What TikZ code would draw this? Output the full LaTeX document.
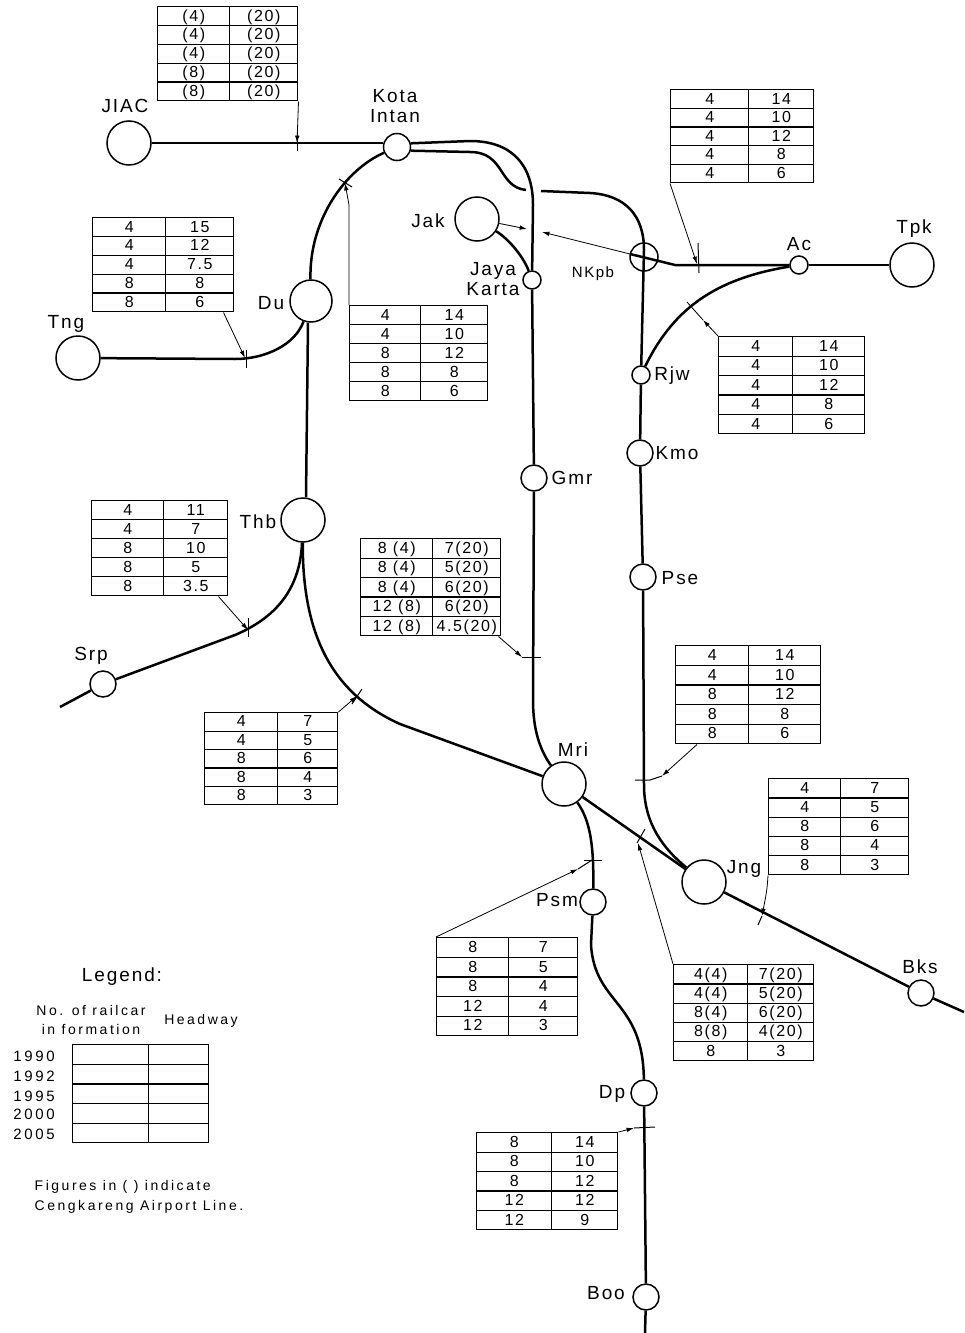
\documentclass[tikz,border=0pt]{standalone}
\usepackage{fontspec}
\setmainfont[LetterSpace=10]{Liberation Sans}
\newfontfamily\widefont[LetterSpace=18]{Liberation Sans}
\usetikzlibrary{arrows.meta,matrix}
\tikzset{
  rail/.style={line width=2.5pt,draw=black},
  leader/.style={-{Latex[length=2.6mm,width=1.6mm]},line width=0.8pt,draw=black},
  thin leader/.style={line width=0.8pt,draw=black},
  tick/.style={line width=1pt,draw=black},
  station/.style={circle,draw=black,fill=white,line width=1.5pt,inner sep=0pt,minimum size=#1},
  stationlabel/.style={inner sep=0pt,align=center,font=\fontsize{19}{20.5}\selectfont},
  legendtext/.style={inner sep=0pt,align=left,font=\widefont\fontsize{14}{19.5}\selectfont},
  yearlabel/.style={inner sep=0pt,font=\widefont\fontsize{15}{15}\selectfont},
  railtab/.style n args={3}{matrix of nodes,ampersand replacement=\&,inner sep=0pt,anchor=north west,
    nodes in empty cells,row sep=-1.1pt,column sep=-1.1pt,
    nodes={draw=black,line width=1.1pt,inner sep=0pt,outer sep=0pt,minimum height=#3,
           text height=10pt,text depth=0pt,font=\fontsize{16}{16}\selectfont},
    column 1/.style={nodes={minimum width=#1}},
    column 2/.style={nodes={minimum width=#2}}}
}
\begin{document}
\begin{tikzpicture}[x=1pt,y=-1pt]
  \useasboundingbox (0,0) rectangle (964,1333);

  % Stations.
  \node[station=44] (jiac) at (129,143) {};
  \node[station=27] (kota) at (397,147) {};
  \node[station=44] (jak) at (477,219) {};
  \node[station=18] (jaya) at (532,280) {};
  \node[station=28,fill=none] (nkpb) at (644,257) {};
  \node[station=18] (ac) at (799,265) {};
  \node[station=44] (tpk) at (912,265) {};
  \node[station=42] (du) at (311,301) {};
  \node[station=44] (tng) at (78,358) {};
  \node[station=18] (rjw) at (641,375) {};
  \node[station=26] (kmo) at (640,453) {};
  \node[station=26] (gmr) at (534,478) {};
  \node[station=26] (pse) at (643,577) {};
  \node[station=44] (thb) at (303,520) {};
  \node[station=26] (srp) at (103,684) {};
  \node[station=44] (mri) at (564,784) {};
  \node[station=44] (jng) at (704,882) {};
  \node[station=26] (psm) at (593,902) {};
  \node[station=26] (bks) at (921,993) {};
  \node[station=26] (dp) at (644,1093) {};
  \node[station=26] (boo) at (646,1297) {};

  % Station names.
  \node[stationlabel] (ljiac) at (125,106) {JIAC};
  \node[stationlabel] (lkota) at (395,106) {Kota\\Intan};
  \node[stationlabel] (ljak) at (428,221) {Jak};
  \node[stationlabel] (ljaya) at (493,279) {Jaya\\Karta};
  \node[stationlabel,font=\fontsize{15}{16}\selectfont] (lnkpb) at (593,274) {NKpb};
  \node[stationlabel] (lac) at (799,244) {Ac};
  \node[stationlabel] (ltpk) at (914,229) {Tpk};
  \node[stationlabel] (ldu) at (271,303) {Du};
  \node[stationlabel] (ltng) at (66,324) {Tng};
  \node[stationlabel] (lrjw) at (672,376) {Rjw};
  \node[stationlabel] (lkmo) at (677,453) {Kmo};
  \node[stationlabel] (lgmr) at (572,478) {Gmr};
  \node[stationlabel] (lpse) at (680,578) {Pse};
  \node[stationlabel] (lthb) at (258,522) {Thb};
  \node[stationlabel] (lsrp) at (91,656) {Srp};
  \node[stationlabel] (lmri) at (573,750) {Mri};
  \node[stationlabel] (ljng) at (744,869) {Jng};
  \node[stationlabel] (lpsm) at (557,900) {Psm};
  \node[stationlabel] (lbks) at (920,967) {Bks};
  \node[stationlabel] (ldp) at (612,1094) {Dp};
  \node[stationlabel] (lboo) at (606,1293) {Boo};

  % Lines.
  \draw[rail] (jiac) -- (kota.west |- jiac);
  \draw[rail] (kota.15) -- (470,141) .. controls (512,141) and (533,165) .. (533,205) -- (jaya);
  \draw[rail] (kota.-15) -- (470,152) .. controls (505,152) and (498,187) .. (526,190);
  \draw[rail] (541,191) -- (590,193) .. controls (625,195) and (644,215) .. (644,250) -- (rjw);
  \draw[rail] (rjw) -- (kmo);
  \draw[rail] (kmo) -- (pse);
  \draw[rail] (pse) -- (644,785) .. controls (644,825) and (665,850) .. (jng);
  \draw[rail] (jak) .. controls (510,240) and (524,258) .. (jaya);
  \draw[rail] (jaya) -- (gmr);
  \draw[rail] (gmr) -- (533,700) .. controls (533,730) and (540,750) .. (mri);
  \draw[leader] (jak) -- (527,229);
  \coordinate (nkend) at (630,254);
  \draw[leader] (nkend) -- (542,232);
  \draw[rail] (ac) -- (675,265) -- (nkend);
  \draw[rail] (ac) -- (tpk);
  \draw[rail] (rjw) .. controls (675,305) and (720,278) .. (ac);
  \draw[rail] (kota) .. controls (345,170) and (309,220) .. (du);
  \draw[rail] (tng) -- (235,359) .. controls (265,359) and (295,345) .. (du);
  \draw[rail] ([xshift=-3pt]du.south) -- ([xshift=3pt]thb.north);
  \draw[rail] (thb) .. controls (300,590) and (275,618) .. (235,635) -- (srp);
  \draw[rail] (srp) -- (60,707);
  \draw[rail] (thb) .. controls (302,645) and (340,697) .. (400,724) -- (mri);
  \draw[rail] (mri) -- (jng);
  \draw[rail] (jng) -- (bks);
  \draw[rail] (bks) -- (964,1012);
  \draw[rail] (mri) .. controls (590,820) and (594,845) .. (psm);
  \draw[rail] (psm) -- (591,945) .. controls (595,1005) and (643,1000) .. (dp);
  \draw[rail] (dp) -- (boo);
  \draw[rail] (boo) -- (645,1333);

  % Tables: cars in formation, headway.
  \matrix (tabJiac) at (157,6) [railtab={72}{68}{18.8}] {
    (4) \& (20) \\ (4) \& (20) \\ (4) \& (20) \\ (8) \& (20) \\ (8) \& (20) \\};
  \matrix (tabTng) at (92,217) [railtab={73}{68}{18.8}] {
    4 \& 15 \\ 4 \& 12 \\ 4 \& 7.5 \\ 8 \& 8 \\ 8 \& 6 \\};
  \matrix (tabDu) at (349,305) [railtab={71}{67}{19}] {
    4 \& 14 \\ 4 \& 10 \\ 8 \& 12 \\ 8 \& 8 \\ 8 \& 6 \\};
  \matrix (tabAc) at (670,89) [railtab={78}{65}{18.6}] {
    4 \& 14 \\ 4 \& 10 \\ 4 \& 12 \\ 4 \& 8 \\ 4 \& 6 \\};
  \matrix (tabRjw) at (718,336) [railtab={74}{72}{19.4}] {
    4 \& 14 \\ 4 \& 10 \\ 4 \& 12 \\ 4 \& 8 \\ 4 \& 6 \\};
  \matrix (tabThb) at (91,500) [railtab={72}{64}{19}] {
    4 \& 11 \\ 4 \& 7 \\ 8 \& 10 \\ 8 \& 5 \\ 8 \& 3.5 \\};
  \matrix (tabGmr) at (360,538) [railtab={72}{68}{19.4}] {
    8 (4) \& 7(20) \\ 8 (4) \& 5(20) \\ 8 (4) \& 6(20) \\ 12 (8) \& 6(20) \\ 12 (8) \& 4.5(20) \\};
  \matrix (tabMri) at (204,712) [railtab={73}{60}{18.4}] {
    4 \& 7 \\ 4 \& 5 \\ 8 \& 6 \\ 8 \& 4 \\ 8 \& 3 \\};
  \matrix (tabPse) at (675,645) [railtab={73}{72}{19.6}] {
    4 \& 14 \\ 4 \& 10 \\ 8 \& 12 \\ 8 \& 8 \\ 8 \& 6 \\};
  \matrix (tabJng) at (768,778) [railtab={72}{68}{19.2}] {
    4 \& 7 \\ 4 \& 5 \\ 8 \& 6 \\ 8 \& 4 \\ 8 \& 3 \\};
  \matrix (tabPsm) at (436,937) [railtab={72}{69}{19.6}] {
    8 \& 7 \\ 8 \& 5 \\ 8 \& 4 \\ 12 \& 4 \\ 12 \& 3 \\};
  \matrix (tabBks) at (673,964) [railtab={74}{66}{19.2}] {
    4(4) \& 7(20) \\ 4(4) \& 5(20) \\ 8(4) \& 6(20) \\ 8(8) \& 4(20) \\ 8 \& 3 \\};
  \matrix (tabDp) at (476,1132) [railtab={75}{66}{19.4}] {
    8 \& 14 \\ 8 \& 10 \\ 8 \& 12 \\ 12 \& 12 \\ 12 \& 9 \\};

  % Leaders with their tick marks.
  \coordinate (tkJiac) at (297,143);
  \draw[leader] (tabJiac.south east) -- (tkJiac);
  \draw[tick] (297,125) -- (297,151);
  \coordinate (tkTng) at (245,358);
  \draw[leader] ([xshift=-11pt]tabTng.south east) -- (tkTng);
  \draw[tick] (246,350) -- (246,368);
  \coordinate (tkDu) at (345,183);
  \draw[leader] (tabDu.north west) -- (349,205) -- (tkDu);
  \draw[tick] (339,179) -- (352,187);
  \coordinate (tkAc) at (697,264);
  \draw[leader] (tabAc.south west) -- (tkAc);
  \draw[tick] (698,243) -- (699,273);
  \coordinate (arRjw) at (703,320);
  \draw[leader] (tabRjw.north west) -- (arRjw);
  \draw[thin leader] (arRjw) -- (687,302);
  \coordinate (tkThb) at (248,630);
  \draw[leader] ([xshift=-10pt]tabThb.south east) -- (tkThb);
  \draw[tick] (248,618) -- (248,637);
  \coordinate (tkGmr) at (522,657);
  \draw[leader] ([xshift=-3pt]tabGmr.south east) -- (tkGmr);
  \draw[tick] (522,657) -- (541,657);
  \coordinate (tkMri) at (357,696);
  \draw[leader] (tabMri.north east) -- (tkMri);
  \draw[tick] (352,704) -- (362,689);
  \coordinate (arPse) at (662,776);
  \draw[leader] ([xshift=22pt]tabPse.south west) -- (arPse);
  \draw[tick] (arPse) -- (650,780) -- (635,780);
  \coordinate (tkJng) at (762,916);
  \draw[leader] (tabJng.south west) .. controls (767,890) .. (tkJng);
  \draw[tick] (762,916) -- (758,925);
  \coordinate (arPsm) at (578,869);
  \draw[leader] (tabPsm.north west) -- (arPsm);
  \draw[tick] (arPsm) -- (592,860);
  \draw[tick] (584,860) -- (602,860);
  \coordinate (tkBks) at (638,843);
  \draw[leader] (tabBks.north west) -- (tkBks);
  \draw[tick] (637,843) -- (645,829);
  \coordinate (arDp) at (634,1128);
  \draw[leader] (tabDp.north east) -- (arDp);
  \draw[tick] (634,1128) -- (655,1127);

  % Legend.
  \node[stationlabel] (lleg) at (122,977) {Legend:};
  \node[legendtext,align=center] (lcars) at (91,1020) {No. of railcar\\in formation};
  \node[legendtext] (lhead) at (201,1021) {Headway};
  \matrix (tabLeg) at (72,1044) [railtab={76}{60}{19.6}] {
    \& \\ \& \\ \& \\ \& \\ \& \\};
  \node[yearlabel] (y1990) at (34,1056) {1990};
  \node[yearlabel] (y1992) at (34,1076) {1992};
  \node[yearlabel] (y1995) at (34,1096) {1995};
  \node[yearlabel] (y2000) at (34,1114) {2000};
  \node[yearlabel] (y2005) at (34,1134) {2005};
  \node[legendtext] (lnote) at (139,1197) {Figures in ( ) indicate\\Cengkareng Airport Line.};
\end{tikzpicture}
\end{document}
